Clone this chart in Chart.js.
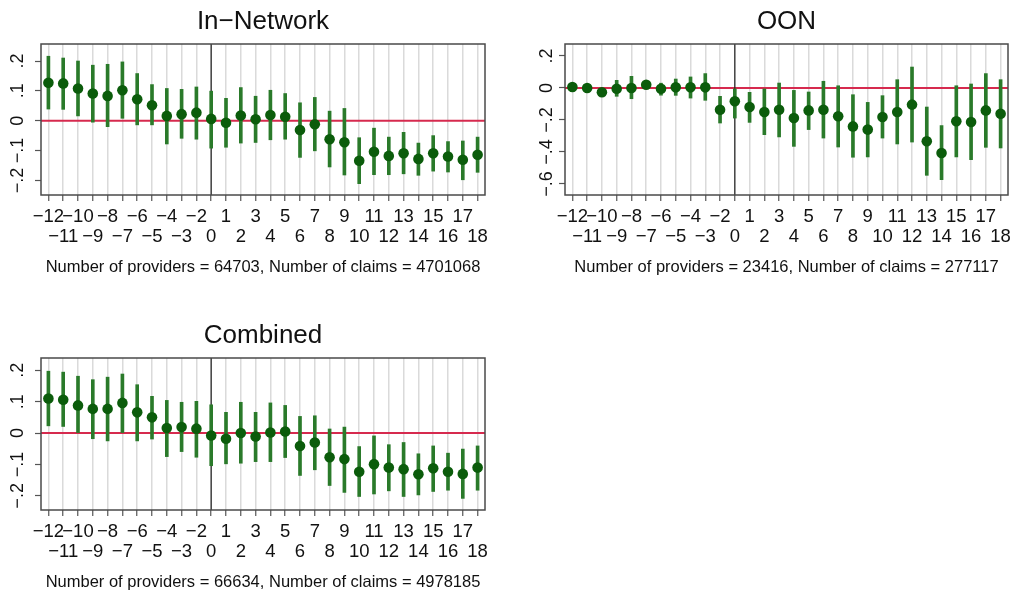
<!DOCTYPE html>
<html>

<head>
    <meta charset="UTF-8">
    <title>Event study</title>
    <script src="https://cdn.jsdelivr.net/npm/chart.js@4.4.1/dist/chart.umd.min.js"></script>
    <style>
        body { margin: 0; background: #fff; }
        canvas { position: absolute; }
    </style>
</head>

<body>
    <canvas id="inNet" width="510" height="280" style="left:0; top:0"></canvas>
    <canvas id="oon" width="496" height="280" style="left:524px; top:0"></canvas>
    <canvas id="comb" width="510" height="278" style="left:0; top:314px"></canvas>

    <script>
        // event time -1 is the omitted reference period
        var periods = ['−12', '−11', '−10', '−9', '−8', '−7', '−6', '−5', '−4', '−3', '−2',
            '0', '1', '2', '3', '4', '5', '6', '7', '8', '9', '10', '11', '12', '13', '14', '15', '16', '17', '18'];

        var inNetEst = [0.127, 0.125, 0.108, 0.091, 0.083, 0.102, 0.072, 0.052, 0.016, 0.022, 0.027,
            0.006, -0.007, 0.017, 0.005, 0.019, 0.013, -0.031, -0.012, -0.062, -0.072, -0.134, -0.104, -0.118, -0.109, -0.128, -0.109, -0.120, -0.131, -0.114];
        var inNetLo = [0.039, 0.038, 0.016, -0.005, -0.020, 0.008, -0.014, -0.014, -0.078, -0.059, -0.062,
            -0.092, -0.089, -0.075, -0.073, -0.064, -0.062, -0.123, -0.101, -0.155, -0.182, -0.211, -0.181, -0.181, -0.178, -0.183, -0.169, -0.172, -0.198, -0.173];
        var inNetHi = [0.216, 0.210, 0.200, 0.186, 0.189, 0.197, 0.158, 0.121, 0.108, 0.105, 0.113,
            0.099, 0.075, 0.111, 0.082, 0.102, 0.091, 0.060, 0.078, 0.032, 0.041, -0.057, -0.025, -0.055, -0.039, -0.075, -0.050, -0.070, -0.068, -0.055];

        var oonEst = [0.006, 0.000, -0.027, -0.005, 0.000, 0.020, -0.005, 0.004, 0.004, 0.004, -0.136,
            -0.083, -0.119, -0.150, -0.136, -0.188, -0.140, -0.136, -0.177, -0.240, -0.260, -0.181, -0.150, -0.104, -0.333, -0.406, -0.208, -0.213, -0.140, -0.161];
        var oonLo = [-0.015, -0.020, -0.045, -0.052, -0.067, 0.000, -0.045, -0.046, -0.063, -0.077, -0.219,
            -0.188, -0.215, -0.292, -0.306, -0.365, -0.260, -0.313, -0.369, -0.433, -0.431, -0.313, -0.350, -0.338, -0.546, -0.573, -0.431, -0.448, -0.371, -0.375];
        var oonHi = [0.025, 0.020, -0.010, 0.048, 0.073, 0.040, 0.030, 0.056, 0.069, 0.090, -0.052,
            -0.006, -0.027, -0.006, 0.031, -0.015, -0.025, 0.042, 0.014, -0.042, -0.090, -0.048, 0.052, 0.131, -0.119, -0.235, 0.014, 0.025, 0.090, 0.052];

        var combEst = [0.110, 0.106, 0.088, 0.077, 0.077, 0.096, 0.066, 0.050, 0.016, 0.019, 0.014,
            -0.008, -0.018, 0.000, -0.011, 0.002, 0.005, -0.041, -0.030, -0.077, -0.083, -0.123, -0.099, -0.110, -0.115, -0.131, -0.112, -0.123, -0.130, -0.110];
        var combLo = [0.023, 0.021, 0.000, -0.018, -0.025, 0.000, -0.025, -0.019, -0.075, -0.059, -0.077,
            -0.104, -0.098, -0.096, -0.091, -0.091, -0.078, -0.135, -0.117, -0.167, -0.189, -0.202, -0.194, -0.184, -0.202, -0.197, -0.186, -0.182, -0.208, -0.182];
        var combHi = [0.197, 0.194, 0.181, 0.170, 0.178, 0.188, 0.154, 0.117, 0.104, 0.098, 0.101,
            0.090, 0.066, 0.098, 0.066, 0.096, 0.088, 0.053, 0.055, 0.013, 0.019, -0.043, -0.009, -0.037, -0.030, -0.066, -0.041, -0.064, -0.051, -0.041];

        var smallTicks = [-0.2, -0.1, 0, 0.1, 0.2];
        var smallTickLabels = ['−.2', '−.1', '0', '.1', '.2'];
        var oonTicks = [-0.6, -0.4, -0.2, 0, 0.2];
        var oonTickLabels = ['−.6', '−.4', '−.2', '0', '.2'];

        var FONT = '"Liberation Sans", Arial, Helvetica, sans-serif';

        // zero line, event line, frame, titles and rotated y labels (Stata look)
        var decor = {
            id: 'decor',
            beforeDatasetsDraw: function (chart, args, o) {
                var ctx = chart.ctx, a = chart.chartArea;
                var x = chart.scales.x, y = chart.scales.y;
                ctx.save();
                var y0 = y.getPixelForValue(0);
                ctx.strokeStyle = '#d62a4e';
                ctx.lineWidth = 2;
                ctx.beginPath(); ctx.moveTo(a.left, y0); ctx.lineTo(a.right, y0); ctx.stroke();
                var x0 = x.getPixelForValue(periods.indexOf('0'));
                ctx.strokeStyle = '#222';
                ctx.lineWidth = 1.2;
                ctx.beginPath(); ctx.moveTo(x0, a.top); ctx.lineTo(x0, a.bottom); ctx.stroke();
                ctx.restore();
            },
            afterDraw: function (chart, args, o) {
                var ctx = chart.ctx, a = chart.chartArea;
                var y = chart.scales.y;
                var cx = (a.left + a.right) / 2;
                ctx.save();
                ctx.strokeStyle = '#4a4a4a';
                ctx.lineWidth = 1.5;
                ctx.strokeRect(a.left, a.top, a.right - a.left, a.bottom - a.top);

                ctx.fillStyle = '#111';
                ctx.textAlign = 'center';
                ctx.textBaseline = 'alphabetic';
                ctx.font = '26px ' + FONT;
                ctx.fillText(o.title, cx, a.top - 15.5);
                ctx.font = '16.5px ' + FONT;
                ctx.fillText(o.note, cx, a.bottom + 76.5);

                ctx.font = '18px ' + FONT;
                o.ticks.forEach(function (v, i) {
                    ctx.save();
                    ctx.translate(a.left - o.gap, y.getPixelForValue(v));
                    ctx.rotate(-Math.PI / 2);
                    ctx.fillText(o.tickLabels[i], 0, 0);
                    ctx.restore();
                });
                ctx.restore();
            }
        };

        function makePanel(id, est, lo, hi, yMin, yMax, ticks, tickLabels, title, note, pad, gap) {
            var ctx = document.getElementById(id).getContext('2d');
            return new Chart(ctx, {
                type: 'bar',
                data: {
                    labels: periods,
                    datasets: [{
                        type: 'line',
                        data: est,
                        showLine: false,
                        pointRadius: 5.3,
                        pointBorderWidth: 0,
                        pointBackgroundColor: '#0b5c0b',
                        order: 0
                    }, {
                        type: 'bar',
                        data: lo.map(function (l, i) { return [l, hi[i]]; }),
                        backgroundColor: '#2a7a2a',
                        barThickness: 3,
                        grouped: false,
                        order: 1
                    }]
                },
                options: {
                    responsive: false,
                    animation: false,
                    devicePixelRatio: 1,
                    layout: { padding: pad },
                    plugins: {
                        legend: { display: false },
                        tooltip: { enabled: false },
                        decor: { title: title, note: note, ticks: ticks, tickLabels: tickLabels, gap: gap }
                    },
                    scales: {
                        x: {
                            type: 'category',
                            offset: true,
                            afterFit: function (s) { s.height = 60; },
                            border: { display: false },
                            grid: {
                                offset: false,
                                color: '#dadada',
                                lineWidth: 1.5,
                                tickLength: 6,
                                tickColor: '#555',
                                tickWidth: 1.2
                            },
                            ticks: {
                                autoSkip: false,
                                maxRotation: 0,
                                minRotation: 0,
                                padding: 6,
                                color: '#111',
                                font: { family: FONT, size: 18.5, lineHeight: 1.08 },
                                callback: function (v, i) {
                                    return i % 2 === 0 ? [periods[i], ''] : ['', periods[i]];
                                }
                            }
                        },
                        y: {
                            min: yMin,
                            max: yMax,
                            afterBuildTicks: function (s) {
                                s.ticks = ticks.map(function (v) { return { value: v }; });
                            },
                            afterFit: function (s) { s.width = 41; },
                            border: { display: false },
                            grid: {
                                drawOnChartArea: false,
                                tickLength: 6,
                                tickColor: '#555',
                                tickWidth: 1.2
                            },
                            ticks: { display: false }
                        }
                    }
                },
                plugins: [decor]
            });
        }

        makePanel('inNet', inNetEst, inNetLo, inNetHi, -0.249, 0.257, smallTicks, smallTickLabels,
            'In−Network', 'Number of providers = 64703, Number of claims = 4701068',
            { top: 44, bottom: 25, left: 0, right: 25 }, 18);

        makePanel('oon', oonEst, oonLo, oonHi, -0.669, 0.275, oonTicks, oonTickLabels,
            'OON', 'Number of providers = 23416, Number of claims = 277117',
            { top: 44, bottom: 25, left: 0, right: 12 }, 13.5);

        makePanel('comb', combEst, combLo, combHi, -0.245, 0.239, smallTicks, smallTickLabels,
            'Combined', 'Number of providers = 66634, Number of claims = 4978185',
            { top: 44, bottom: 22, left: 0, right: 25 }, 18);
    </script>
</body>

</html>
